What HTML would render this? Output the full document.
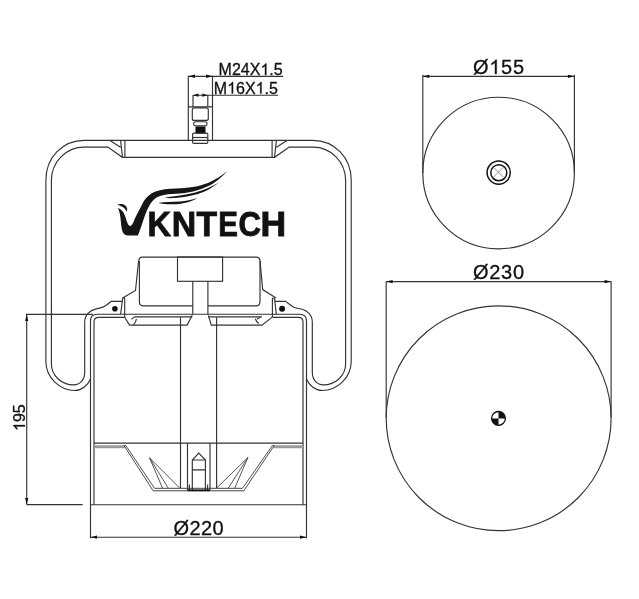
<!DOCTYPE html>
<html><head><meta charset="utf-8">
<style>
html,body{margin:0;padding:0;background:#fff;width:639px;height:599px;overflow:hidden}
svg{display:block}
text{font-family:"Liberation Sans",sans-serif;fill:#111}
.dt text{stroke:#111;stroke-width:0.3}
</style></head><body>
<svg width="639" height="599" viewBox="0 0 639 599" style="will-change:transform">
<g fill="none" stroke="#333" stroke-width="1.15">

<!-- ===== fitting dimensions ===== -->
<path d="M188.5,76.3 H283.2 M193,95.2 H278.2"/>
<path d="M188.3,75.8 V140.4 M212.5,75.8 V140.4 M193,95 V106.5 M207.8,95 V106.5 M188.3,106.8 H212.5"/>
<rect x="192.3" y="107.9" width="16" height="12.5" rx="2"/>
<rect x="193.6" y="121.7" width="13.4" height="4" rx="1.8"/>
<rect x="195.5" y="126.4" width="10" height="7.2" fill="#111" stroke="none"/>
<rect x="192.6" y="133.1" width="15.2" height="10.3" rx="1.2"/>
<path d="M192.6,137.5 H207.8"/>

<!-- ===== outer bracket ===== -->
<path d="M90.5,379 C88,385 82,390.5 74.7,390.5 C60,390.5 45.9,378 45.9,361.6 V180 C45.9,158 62,140.4 84.5,140.4 H312.5 C335,140.4 351.2,158 351.2,180 V361.6 C351.2,378 337,390.5 322.3,390.5 C315,390.5 309,385 306.5,379"/>
<!-- inner bracket -->
<path d="M122.4,301.3 H111.3 C109.5,302.8 107.2,305 103.5,306.9 C101,308 98.5,308.5 95.5,309.1 C90.5,310.2 84.7,314.5 84.7,322 V372 C84.7,380 80,384.9 73.6,384.9 C62,384.9 51.4,376 51.4,364 V180.3 C51.4,162 66,147.1 84,147.1 H107.8 L122.4,157.3 H274.6 L289.2,147.1 H313 C331,147.1 345.6,162 345.6,180.3 V364 C345.6,376 335,384.9 323.4,384.9 C317,384.9 312.3,380 312.3,372 V322 C312.3,315 307,310.5 302,309.3 C299,308.7 296.5,308.2 293.8,307.2 C290.3,305.4 288,303 285.7,301.4 H274.6"/>
<!-- top plate details -->
<path d="M110,140.4 L120.6,147.2 M120.6,140.4 L122.5,157.2 M124.9,140.4 V157.3"/>
<path d="M287,140.4 L276.4,147.2 M276.4,140.4 L274.5,157.2 M272.1,140.4 V157.3"/>

<!-- ===== piston ===== -->
<path d="M90.5,538.2 V321 Q90.5,314.2 97.3,314.2 H299.7 Q306.5,314.2 306.5,321 V538.2"/>
<path d="M94,504.7 V322 Q94,317.3 98.7,317.3 H124.7 M134.4,316.9 H192.2 M208.3,316.9 H262 M272.5,317.3 H298.3 Q303,317.3 303,322 V504.7"/>
<path d="M90.5,504.7 H306.5 M94,443.1 H303"/>
<path d="M94,446.8 H125 M303,446.8 H273.3" stroke="#9a9a9a" stroke-width="3"/>
<path stroke="#444" stroke-width="0.95" d="M124,445.5 L153.2,490.8 M125.8,445.5 L154.6,488.4 M274.2,445.5 L243.8,490.8 M272.4,445.5 L242.4,488.4 M124,445.5 H125.8 M274.2,445.5 H272.4"/>
<path stroke="#444" stroke-width="1" d="M154.6,488.3 H242.4 M153.2,490.8 H243.8"/>
<path stroke="#444" stroke-width="0.9" d="M149.5,457.8 L162.6,488.2 M149.5,457.8 L168.3,488.2 M149.5,457.8 L179.5,487.8"/>
<path stroke="#444" stroke-width="0.9" d="M247.9,457.5 L216.9,487.8 M247.9,457.5 L228.2,488.2 M247.9,457.5 L234.7,488.2"/>
<path d="M180.5,317.3 V488.2 M216.6,317.3 V488.2 M187.5,443.1 V490 M210,443.1 V490"/>
<path d="M192.3,490 V460 L198.8,453.2 L205.4,460 V490 M192.3,460 H205.4 M192.3,469.8 H205.4 M189.4,484.5 V490 M207.6,484.5 V490"/>
<path d="M187.5,490.3 H210" stroke-width="1.8" stroke="#111"/>

<!-- piston top bump -->
<path d="M122.6,298 L135.5,290.5 L138.5,261.5 Q139,257.1 142.5,257.1 H257 Q259.8,257.4 260,260.5 L262.7,289.6 L276,298.1"/>
<path d="M139.4,261 V301.8 Q139.4,305.9 143.5,305.9 H192.8 M207.9,305.9 H256 Q260,305.9 260,301.8 V261"/>
<rect x="177.5" y="257" width="45.1" height="24.3"/>
<path d="M192.8,281.3 V314.2 M207.9,281.3 V314.2"/>
<path d="M122.7,298 L120.6,314.2 M124.7,298 V317.2 M272.4,298.2 V317.1 M274.5,298.2 L276.3,314.2 M122.3,298 H125 M272,298.2 H274.8"/>
<path d="M124.7,317.2 L129.5,325.1 H187.1 L192.2,315.3 M208.3,315.3 L211.4,325.1 H262 L272.2,317.1"/>
<path d="M131.4,319.4 L134.4,316.9 M136.4,319 Q136,322.5 133.4,324.7 M260,317.5 L257,319 M255.3,318.8 Q256.5,322 258.7,323.5"/>

<!-- ===== 195 dimension ===== -->
<path d="M26.7,314.4 V504.6 M26,314.4 H92.7 M26.7,504.6 H82.6"/>

<!-- Ø220 dimension -->
<path d="M90.5,537.2 H306.5"/>

<!-- ===== circles ===== -->
<circle cx="498.6" cy="173" r="75.8"/>
<path d="M422.8,74.8 V173 M574.4,74.8 V173 M422.8,76.3 H574.4"/>
<circle cx="498.65" cy="418.25" r="112.45"/>
<path d="M386.2,281.3 V417.5 M611.1,281.3 V417.5 M386.2,281.6 H611.1"/>
<circle cx="498.7" cy="172.6" r="11.6" stroke="#111" stroke-width="1.5"/>
<circle cx="498.8" cy="172.7" r="8" stroke="#111" stroke-width="1.5"/>
<path d="M493.4,167.2 L503.4,177.2 M503.4,167.2 L493.4,177.2" stroke="#777" stroke-width="0.8"/>
<circle cx="498.5" cy="418.4" r="6.9" stroke="#111" stroke-width="1.3"/>
</g>

<!-- filled elements -->
<g fill="#111" stroke="none">
<circle cx="114.9" cy="308.8" r="2.8"/>
<circle cx="282.1" cy="308.8" r="3"/>
<path d="M498.5,418.4 V411.6 A6.8,6.8 0 0 1 505.3,418.4 Z"/>
<path d="M498.5,418.4 V425.2 A6.8,6.8 0 0 1 491.7,418.4 Z"/>
<!-- arrows -->
<path d="M188.5,76.3 l6.5,-1.75 v3.5z M212.5,76.3 l-6.5,-1.75 v3.5z"/>
<path d="M193,95.2 l5.5,-1.6 v3.2z M207.8,95.2 l-5.5,-1.6 v3.2z"/>
<path d="M26.7,314.4 l-1.6,6.5 h3.2z M26.7,504.6 l-1.6,-6.5 h3.2z"/>
<path d="M90.5,537.2 l6.5,-1.6 v3.2z M306.5,537.2 l-6.5,-1.6 v3.2z"/>
<path d="M422.8,76.3 l6.5,-1.6 v3.2z M574.4,76.3 l-6.5,-1.6 v3.2z"/>
<path d="M386.2,281.6 l6.5,-1.6 v3.2z M611.1,281.6 l-6.5,-1.6 v3.2z"/>
</g>

<!-- texts -->
<g class="dt">
<text x="218.6" y="75" font-size="16">M24X .5</text>
<text x="213.8" y="93.5" font-size="16">M 6X .5</text>
<text x="473" y="74" font-size="20" letter-spacing="0.7">Ø 55</text>
<text x="473" y="279.4" font-size="20" letter-spacing="0.7">Ø230</text>
<text x="173.4" y="535" font-size="20" letter-spacing="0.45">Ø220</text>
<text transform="translate(24.9,431) rotate(-90)" font-size="16"> 95</text>
<g fill="#111" stroke="#111" stroke-width="0.3">
<path transform="translate(260.40,75) scale(0.0078125,-0.0078125)" stroke-width="38" d="M763,0H583V1147Q518,1085 412,1023Q307,961 223,930V1104Q374,1175 487,1276Q600,1377 647,1472H763Z"/>
<path transform="translate(227.13,93.5) scale(0.0078125,-0.0078125)" stroke-width="38" d="M763,0H583V1147Q518,1085 412,1023Q307,961 223,930V1104Q374,1175 487,1276Q600,1377 647,1472H763Z"/>
<path transform="translate(255.60,93.5) scale(0.0078125,-0.0078125)" stroke-width="38" d="M763,0H583V1147Q518,1085 412,1023Q307,961 223,930V1104Q374,1175 487,1276Q600,1377 647,1472H763Z"/>
<path transform="translate(489.26,74) scale(0.0097656,-0.0097656)" stroke-width="31" d="M763,0H583V1147Q518,1085 412,1023Q307,961 223,930V1104Q374,1175 487,1276Q600,1377 647,1472H763Z"/>
<path transform="translate(24.9,431) rotate(-90) scale(0.0078125,-0.0078125)" stroke-width="38" d="M763,0H583V1147Q518,1085 412,1023Q307,961 223,930V1104Q374,1175 487,1276Q600,1377 647,1472H763Z"/>
</g>
</g>

<!-- logo -->
<g fill="#141414" stroke="#141414" stroke-width="0.9" font-family="Liberation Sans" font-size="36" font-weight="bold" style="opacity:0.999">
<text transform="translate(147.6,235.5) scale(0.905,0.96)">K</text>
<text transform="translate(171.8,235.5) scale(0.941,0.96)">N</text>
<text transform="translate(196.6,235.5) scale(0.936,0.96)">T</text>
<text transform="translate(218.2,235.5) scale(0.82,0.96)">E</text>
<text transform="translate(238.5,235.5) scale(0.865,0.96)">C</text>
<text transform="translate(260.6,235.5) scale(0.988,0.96)">H</text>
</g>
<g fill="#161616" stroke="none">
<path d="M117.4,204.4 C119,203.8 121.5,203.7 123.6,204.4 C125.7,205.2 127,207 127.2,209 C127.3,210 127.1,211 126.6,211.7 C126,209.8 124.6,208.2 122.2,206.8 C120.8,206 119.2,205.2 117.4,204.4 Z"/>
<path d="M117.6,207.8 C119,209.8 119.9,213.5 120.4,217.5 C121,223 121.4,228.5 122.5,231.5 C123.5,234.3 125.3,235.6 128.2,235.6 H137.9 C139.1,232.5 140.9,227.5 142.4,223 C144.4,217 146.8,210 149.4,205.6 C151.8,201 155,197.6 160,195.9 C165,194.4 171,193.9 176,193.7 C182,193.4 188,192.6 193,191.4 C199,189.9 205,187.8 210,185.2 C215,182.7 222,177.3 227.3,171 C221.8,175.9 214.5,180.2 208,182.9 C201,185.3 197,186.4 193,187 C187,187.9 182,188.3 176,188.5 C168,188.7 161,189.6 155.5,191.4 C149,194 145,198.5 142.5,203.5 C140,208.5 137.6,213 135.6,217.1 C134,220.5 132.5,226 130.2,226 C128.5,226 127.5,223.5 126.7,221 C125.7,217.8 124.8,215 123.5,212.5 C122,210 120.3,208.7 117.8,207.9 Z"/>
<path d="M164.7,197.6 C170,196.6 175,195.9 180,195.4 C192,193.9 200,191.4 205.8,189.1 C211,186.9 216,184.5 219.6,181.8 C215,185.7 211,188.4 205.8,190.9 C199,193.8 192,195.8 180,197.5 C173,198.4 168,198.3 164.7,197.6 Z"/>
<path d="M158.1,202.9 C164,202.2 172,201.8 180,201.6 C186,201.1 192,200 197.2,198 C193,200.8 188,202.5 180,203.9 C172,204.6 164,204.4 158.1,202.9 Z"/>
</g>
</svg>
</body></html>
